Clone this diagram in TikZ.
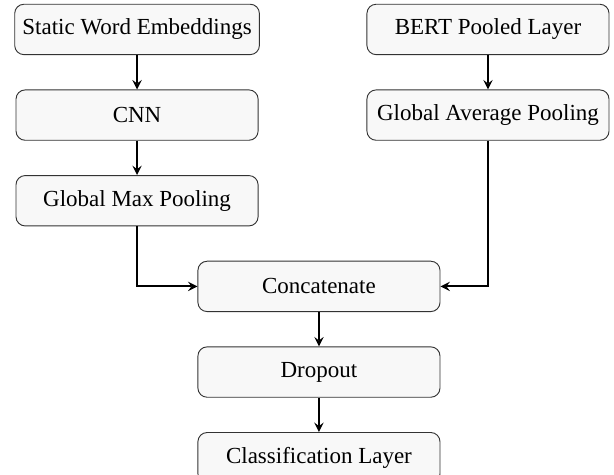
\documentclass[tikz,border=0pt]{standalone}
\usepackage{fontspec}
\setmainfont{Liberation Serif}
\usepackage{tikz}
\usetikzlibrary{shapes,arrows,positioning,calc}
\definecolor{boxgray}{RGB}{248,248,248}

\begin{document}
\begin{tikzpicture}[
        layer/.style={rectangle, rounded corners=4pt, draw=black!80, fill=boxgray, minimum width=3.7cm, minimum height=0.77cm, align=center},
        arrow/.style={-stealth, thick}
    ]
        \useasboundingbox (-59.6pt,12.8pt) rectangle (207.4pt,-193.7pt);

        % Static branch
        \node[layer] (swe) at (0,0) {Static Word Embeddings};
        \node[layer, below=0.525cm of swe] (cnn) {CNN};
        \node[layer, below=0.525cm of cnn] (gmp) {Global Max Pooling};

        % BERT branch
        \node[layer] (bert) at (152.6pt,0) {BERT Pooled Layer};
        \node[layer, below=0.525cm of bert] (gap) {Global Average Pooling};

        % Merge
        \node[layer, below=0.525cm of gmp, xshift=79.1pt] (concat) {Concatenate};
        \node[layer, below=0.525cm of concat] (drop) {Dropout};
        \node[layer, below=0.525cm of drop] (cls) {Classification Layer};

        % Arrows
        \draw[arrow] (swe) -- (cnn);
        \draw[arrow] (cnn) -- (gmp);
        \draw[arrow] (bert) -- (gap);
        \draw[arrow] (gmp.south) |- (concat.west);
        \draw[arrow] (gap.south) |- (concat.east);
        \draw[arrow] (concat) -- (drop);
        \draw[arrow] (drop) -- (cls);
    \end{tikzpicture}
\end{document}
